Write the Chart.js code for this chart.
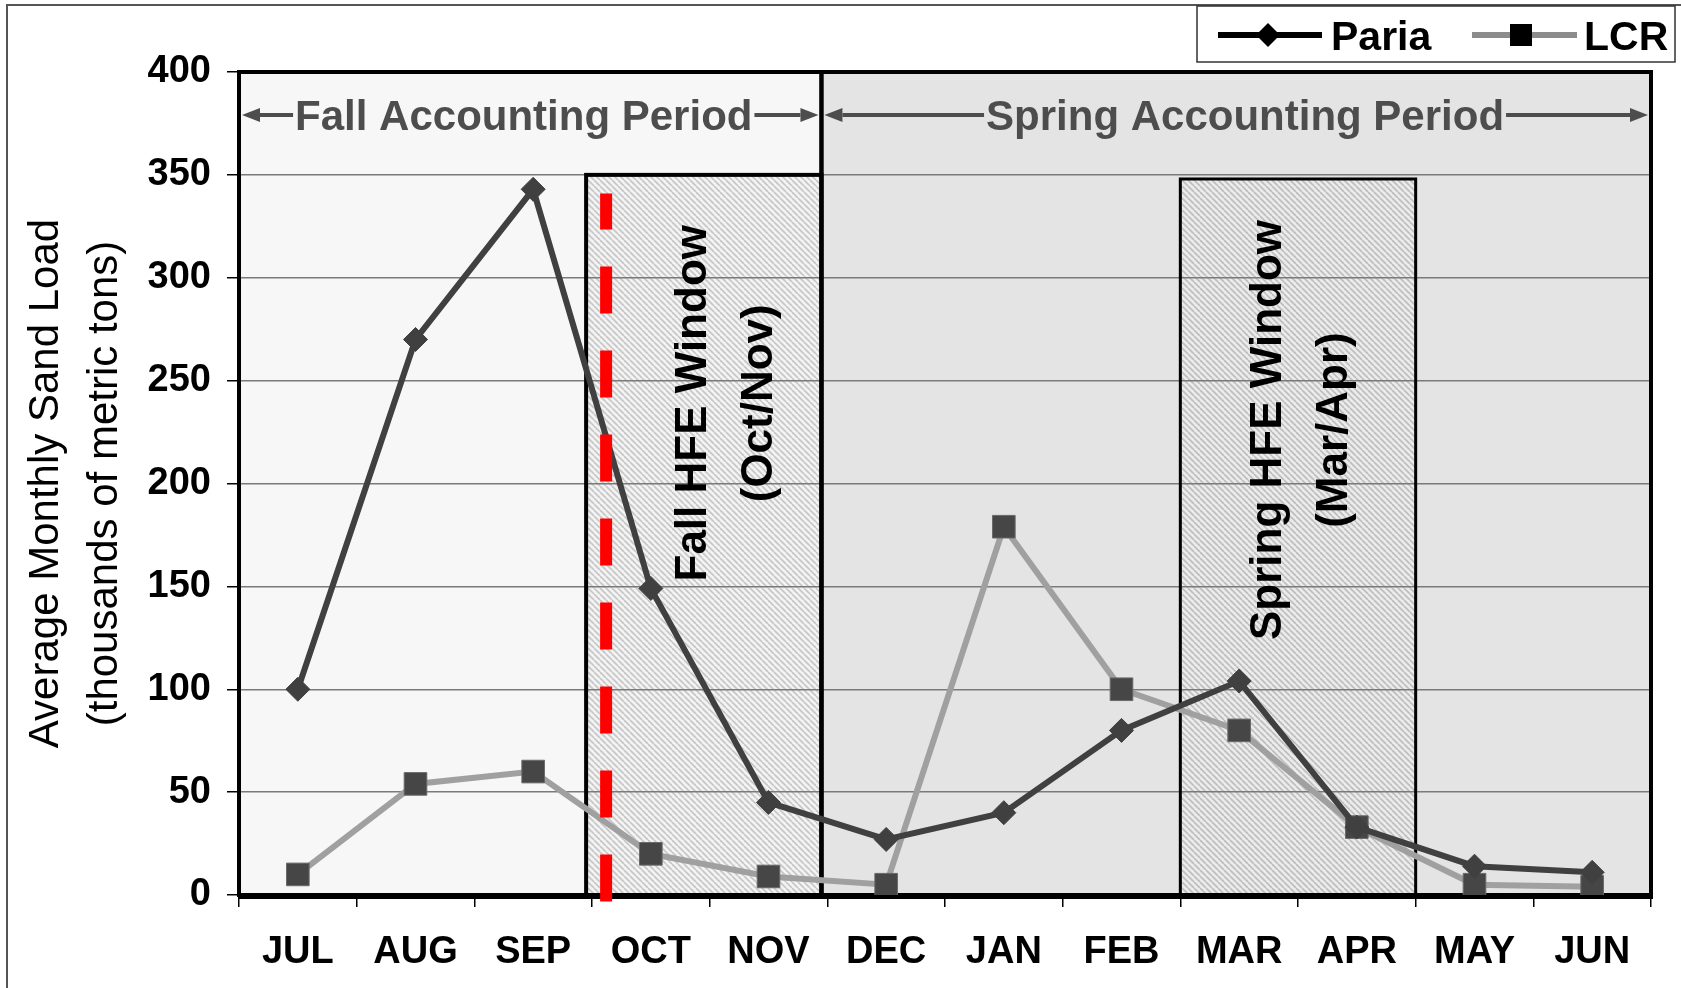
<!DOCTYPE html>
<html>
<head>
<meta charset="utf-8">
<script src="https://cdn.jsdelivr.net/npm/chart.js@4.4.0/dist/chart.umd.min.js"></script>
<style>
  body { margin: 0; background: #fff; }
  canvas { display: block; }
</style>
</head>
<body>
<canvas id="sandChart" width="1681" height="988"></canvas>
<script>
// Months of the sediment accounting year
var months = ['JUL', 'AUG', 'SEP', 'OCT', 'NOV', 'DEC', 'JAN', 'FEB', 'MAR', 'APR', 'MAY', 'JUN'];

// Average monthly sand load (thousands of metric tons)
var paria = [100, 270, 343, 149, 45, 27, 40, 80, 104, 33, 14, 11];
var lcr = [10, 54, 60, 20, 9, 5, 179, 100, 80, 33, 5, 4];

// Accounting periods, in category units
var periodNames = ['Fall Accounting Period', 'Spring Accounting Period'];
var periodStart = [-0.5, 4.45];
var periodEnd = [4.45, 11.5];

// HFE windows, in category units / load units
var windowLines = [['Fall HFE Window', '(Oct/Nov)'], ['Spring HFE Window', '(Mar/Apr)']];
var windowStart = [2.45, 7.5];
var windowEnd = [4.45, 9.5];
var windowTop = [350, 348];

// Red dashed marker inside the fall window
var markerAt = 2.62;
var markerTop = 341;

var FONT = '"Liberation Sans", Arial, sans-serif';

// Diagonal hatch used for the HFE windows
function makeHatch(base, stripe) {
    var p = 6;
    var c = document.createElement('canvas');
    c.width = p;
    c.height = p;
    var g = c.getContext('2d');
    g.fillStyle = base;
    g.fillRect(0, 0, p, p);
    g.strokeStyle = stripe;
    g.lineWidth = 1.6;
    for (var k = -p; k <= p; k += p) {
        g.beginPath();
        g.moveTo(k, 0);
        g.lineTo(k + p, p);
        g.stroke();
    }
    return g.createPattern(c, 'repeat');
}

function arrow(ctx, x1, x2, y, head) {
    // line from x1 to x2 with head at x2
    var dir = x2 > x1 ? 1 : -1;
    ctx.beginPath();
    ctx.moveTo(x1, y);
    ctx.lineTo(x2 - dir * head, y);
    ctx.stroke();
    ctx.beginPath();
    ctx.moveTo(x2, y);
    ctx.lineTo(x2 - dir * head, y - 7);
    ctx.lineTo(x2 - dir * head, y + 7);
    ctx.closePath();
    ctx.fill();
}

var backgrounds = {
    id: 'backgrounds',
    beforeDraw: function (chart) {
        var ctx = chart.ctx;
        var x = chart.scales.x, y = chart.scales.y;
        var top = y.getPixelForValue(400), bottom = y.getPixelForValue(0);
        var fills = ['#f7f7f7', '#e4e4e4'];
        ctx.save();
        for (var i = 0; i < periodStart.length; i++) {
            var l = x.getPixelForValue(periodStart[i]);
            var r = x.getPixelForValue(periodEnd[i]);
            ctx.fillStyle = fills[i];
            ctx.fillRect(l, top, r - l, bottom - top);
        }
        var hatches = [makeHatch('#f3f3f3', '#c6c6c6'), makeHatch('#ebebeb', '#bdbdbd')];
        for (var j = 0; j < windowStart.length; j++) {
            var wl = x.getPixelForValue(windowStart[j]);
            var wr = x.getPixelForValue(windowEnd[j]);
            var wt = y.getPixelForValue(windowTop[j]);
            ctx.fillStyle = hatches[j];
            ctx.fillRect(wl, wt, wr - wl, bottom - wt);
        }
        ctx.restore();
    },
    beforeDatasetsDraw: function (chart) {
        var ctx = chart.ctx;
        var x = chart.scales.x, y = chart.scales.y;
        var top = y.getPixelForValue(400), bottom = y.getPixelForValue(0);
        ctx.save();
        ctx.strokeStyle = '#000';
        // accounting period boxes
        ctx.lineWidth = 4;
        for (var i = 0; i < periodStart.length; i++) {
            var l = x.getPixelForValue(periodStart[i]);
            var r = x.getPixelForValue(periodEnd[i]);
            ctx.strokeRect(l, top, r - l, bottom - top);
        }
        // window boxes
        var widths = [4, 3];
        for (var j = 0; j < windowStart.length; j++) {
            var wl = x.getPixelForValue(windowStart[j]);
            var wr = x.getPixelForValue(windowEnd[j]);
            var wt = y.getPixelForValue(windowTop[j]);
            ctx.lineWidth = widths[j];
            ctx.strokeRect(wl, wt, wr - wl, bottom - wt);
        }
        // thick x axis line
        ctx.lineWidth = 6;
        ctx.beginPath();
        ctx.moveTo(x.left - 1, bottom + 1);
        ctx.lineTo(x.right + 2, bottom + 1);
        ctx.stroke();

        // accounting period captions with arrows
        ctx.font = 'bold 42px ' + FONT;
        ctx.fillStyle = '#4d4d4d';
        ctx.strokeStyle = '#4d4d4d';
        ctx.lineWidth = 4;
        ctx.textAlign = 'center';
        ctx.textBaseline = 'alphabetic';
        var centers = [1.92, 8.05];
        var ty = 130, ay = 115;
        for (var k = 0; k < periodNames.length; k++) {
            var cx = x.getPixelForValue(centers[k]);
            var w = ctx.measureText(periodNames[k]).width;
            ctx.fillText(periodNames[k], cx, ty);
            var pl = x.getPixelForValue(periodStart[k]) + 3;
            var pr = x.getPixelForValue(periodEnd[k]) - 3;
            arrow(ctx, cx - w / 2 - 2, pl, ay, 18);
            arrow(ctx, cx + w / 2 + 2, pr, ay, 18);
        }

        // window captions, rotated
        ctx.font = 'bold 44px ' + FONT;
        ctx.fillStyle = '#000';
        ctx.textBaseline = 'middle';
        var textX = [3.65, 8.53];
        var textY = [239, 226];
        for (var m = 0; m < windowLines.length; m++) {
            var px = x.getPixelForValue(textX[m]);
            var py = y.getPixelForValue(textY[m]);
            ctx.save();
            ctx.translate(px, py);
            ctx.rotate(-Math.PI / 2);
            ctx.fillText(windowLines[m][0], 0, -33);
            ctx.fillText(windowLines[m][1], 0, 33);
            ctx.restore();
        }
        ctx.restore();
    },
    afterDatasetsDraw: function (chart) {
        var ctx = chart.ctx;
        var x = chart.scales.x, y = chart.scales.y;
        var mx = x.getPixelForValue(markerAt);
        ctx.save();
        ctx.strokeStyle = '#ff0000';
        ctx.lineWidth = 12;
        ctx.setLineDash([47, 37]);
        ctx.lineDashOffset = 11;
        ctx.beginPath();
        ctx.moveTo(mx, y.getPixelForValue(markerTop));
        ctx.lineTo(mx, y.getPixelForValue(0) + 10);
        ctx.stroke();
        ctx.restore();
    },
    afterDraw: function (chart) {
        var ctx = chart.ctx;
        ctx.save();
        // outer frame
        ctx.strokeStyle = '#555';
        ctx.lineWidth = 2;
        ctx.beginPath();
        ctx.moveTo(7, 988);
        ctx.lineTo(7, 5);
        ctx.lineTo(1681, 5);
        ctx.stroke();
        // legend box
        ctx.fillStyle = '#fff';
        ctx.fillRect(1197, 6, 478, 56);
        ctx.strokeStyle = '#333';
        ctx.lineWidth = 1.5;
        ctx.strokeRect(1197, 6, 478, 56);
        // Paria entry
        ctx.strokeStyle = '#000';
        ctx.lineWidth = 6;
        ctx.beginPath();
        ctx.moveTo(1218, 35);
        ctx.lineTo(1322, 35);
        ctx.stroke();
        ctx.fillStyle = '#000';
        ctx.beginPath();
        ctx.moveTo(1268, 23);
        ctx.lineTo(1280, 35);
        ctx.lineTo(1268, 47);
        ctx.lineTo(1256, 35);
        ctx.closePath();
        ctx.fill();
        // LCR entry
        ctx.strokeStyle = '#8c8c8c';
        ctx.beginPath();
        ctx.moveTo(1472, 35);
        ctx.lineTo(1577, 35);
        ctx.stroke();
        ctx.fillRect(1510, 24, 22, 22);
        ctx.font = 'bold 41px ' + FONT;
        ctx.textBaseline = 'alphabetic';
        ctx.textAlign = 'left';
        ctx.fillText('Paria', 1331, 50);
        ctx.fillText('LCR', 1584, 50);
        ctx.restore();
    }
};

var data = {
    labels: months,
    datasets: [
        {
            label: 'Paria',
            data: paria,
            borderColor: '#404040',
            backgroundColor: '#404040',
            borderWidth: 6,
            pointStyle: 'rectRot',
            pointRadius: 12,
            pointBorderWidth: 1,
            pointBorderColor: '#404040',
            pointBackgroundColor: '#404040',
            tension: 0
        },
        {
            label: 'LCR',
            data: lcr,
            borderColor: '#a0a0a0',
            backgroundColor: '#464646',
            borderWidth: 6,
            pointStyle: 'rect',
            pointRadius: 16,
            pointBorderWidth: 1,
            pointBorderColor: '#6a6a6a',
            pointBackgroundColor: '#464646',
            tension: 0
        }
    ]
};

var config = {
    type: 'line',
    data: data,
    options: {
        responsive: false,
        animation: false,
        layout: { padding: { left: 0, top: 72, right: 30, bottom: 0 } },
        plugins: {
            legend: { display: false },
            tooltip: { enabled: false }
        },
        scales: {
            x: {
                offset: true,
                grid: {
                    offset: true,
                    drawOnChartArea: false,
                    color: '#000',
                    tickColor: '#000',
                    lineWidth: 1.5,
                    tickLength: 12
                },
                border: { display: false },
                ticks: {
                    color: '#000',
                    padding: 23,
                    font: { family: FONT, size: 38, weight: 'bold' }
                },
                afterFit: function (scale) { scale.height = 93; }
            },
            y: {
                min: 0,
                max: 400,
                ticks: {
                    stepSize: 50,
                    color: '#000',
                    padding: 16,
                    font: { family: FONT, size: 38, weight: 'bold' }
                },
                grid: {
                    color: '#7a7a7a',
                    tickColor: '#000',
                    lineWidth: 1.5,
                    tickLength: 12
                },
                border: { display: false },
                title: {
                    display: true,
                    text: ['Average Monthly Sand Load', '(thousands of metric tons)'],
                    color: '#000',
                    padding: { top: 17, bottom: 0 },
                    font: { family: FONT, size: 42, lineHeight: 1.4 }
                },
                afterFit: function (scale) { scale.width = 239; }
            }
        }
    },
    plugins: [backgrounds]
};

new Chart(document.getElementById('sandChart').getContext('2d'), config);
</script>
</body>
</html>
